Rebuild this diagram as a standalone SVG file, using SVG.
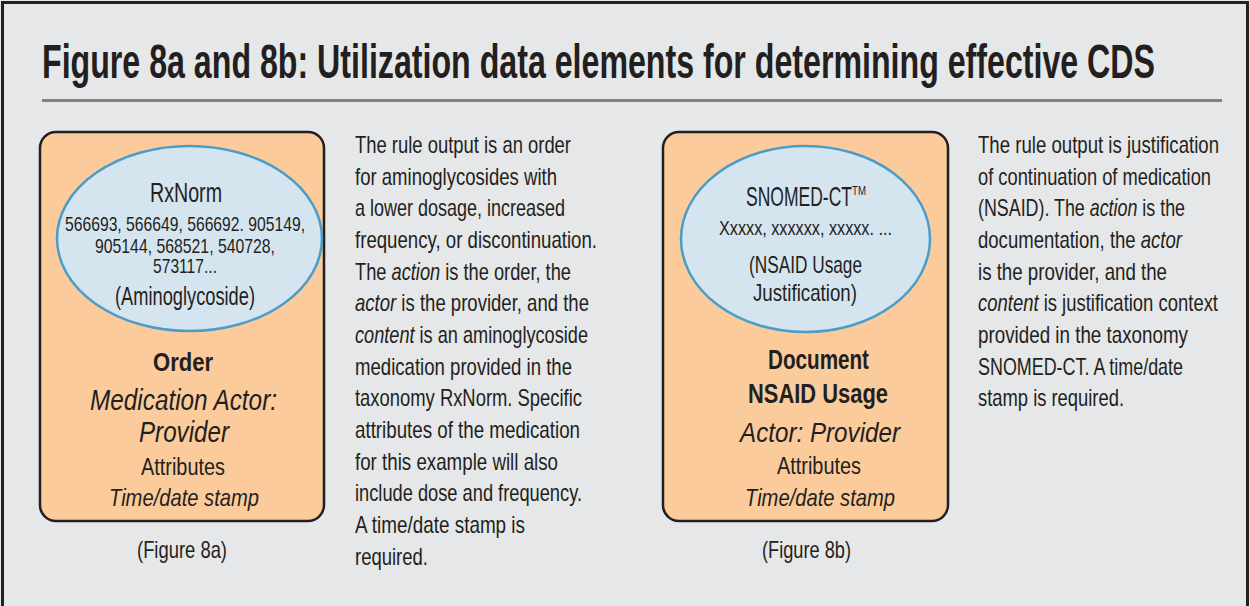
<svg xmlns="http://www.w3.org/2000/svg" width="1250" height="606" viewBox="0 0 1250 606">
<style>
text{font-family:"Liberation Sans Narrow","Liberation Sans",Arial,sans-serif;fill:#231f20;}
.c{text-anchor:middle;}
.b{font-weight:bold;}
.i{font-style:italic;}
.box{fill:#fbcb9c;stroke:#231f20;stroke-width:2.5;}
.ell{fill:#d5e5f0;stroke:#4b9cc6;stroke-width:2.5;}
.p{font-size:24px;}
</style>
<rect x="0" y="0" width="1250" height="606" fill="#e6e7e8"/>
<rect x="2.5" y="2.5" width="1245" height="640" fill="none" stroke="#231f20" stroke-width="3"/>
<text x="42" y="78" font-size="48" class="b" textLength="1113" lengthAdjust="spacingAndGlyphs">Figure 8a and 8b: Utilization data elements for determining effective CDS</text>
<line x1="42" y1="100.5" x2="1222" y2="100.5" stroke="#808285" stroke-width="3"/>

<g id="fig8a">
<rect class="box" x="40" y="132" width="284" height="389" rx="16"/>
<ellipse class="ell" cx="189.5" cy="238.5" rx="132.5" ry="92.5"/>
<text class="c" x="186" y="202" font-size="27" textLength="72" lengthAdjust="spacingAndGlyphs">RxNorm</text>
<text class="c" x="185" y="231" font-size="21" textLength="240" lengthAdjust="spacingAndGlyphs">566693, 566649, 566692. 905149,</text>
<text class="c" x="185" y="253" font-size="21" textLength="180" lengthAdjust="spacingAndGlyphs">905144, 568521, 540728,</text>
<text class="c" x="185" y="273" font-size="21" textLength="64" lengthAdjust="spacingAndGlyphs">573117...</text>
<text class="c" x="185" y="305" font-size="25" textLength="140" lengthAdjust="spacingAndGlyphs">(Aminoglycoside)</text>
<text class="c b" x="183" y="371" font-size="26" textLength="60" lengthAdjust="spacingAndGlyphs">Order</text>
<text class="c i" x="183.5" y="410" font-size="29" textLength="187" lengthAdjust="spacingAndGlyphs">Medication Actor:</text>
<text class="c i" x="184" y="442" font-size="29" textLength="90" lengthAdjust="spacingAndGlyphs">Provider</text>
<text class="c" x="183" y="475" font-size="23" textLength="84" lengthAdjust="spacingAndGlyphs">Attributes</text>
<text class="c i" x="184" y="506" font-size="24" textLength="150" lengthAdjust="spacingAndGlyphs">Time/date stamp</text>
<text class="c" x="182" y="558" font-size="24" textLength="90" lengthAdjust="spacingAndGlyphs">(Figure 8a)</text>
</g>

<g id="text8a" class="p">
<text x="355" y="153" class="p" textLength="216" lengthAdjust="spacingAndGlyphs">The rule output is an order</text>
<text x="355" y="185" class="p" textLength="202" lengthAdjust="spacingAndGlyphs">for aminoglycosides with</text>
<text x="355" y="216" class="p" textLength="210" lengthAdjust="spacingAndGlyphs">a lower dosage, increased</text>
<text x="355" y="248" class="p" textLength="242" lengthAdjust="spacingAndGlyphs">frequency, or discontinuation.</text>
<text x="355" y="280" class="p" textLength="216" lengthAdjust="spacingAndGlyphs">The <tspan class="i">action</tspan> is the order, the</text>
<text x="355" y="311" class="p" textLength="234" lengthAdjust="spacingAndGlyphs"><tspan class="i">actor</tspan> is the provider, and the</text>
<text x="355" y="343" class="p" textLength="233" lengthAdjust="spacingAndGlyphs"><tspan class="i">content</tspan> is an aminoglycoside</text>
<text x="355" y="375" class="p" textLength="217" lengthAdjust="spacingAndGlyphs">medication provided in the</text>
<text x="355" y="406" class="p" textLength="227" lengthAdjust="spacingAndGlyphs">taxonomy RxNorm. Specific</text>
<text x="355" y="438" class="p" textLength="225" lengthAdjust="spacingAndGlyphs">attributes of the medication</text>
<text x="355" y="470" class="p" textLength="203" lengthAdjust="spacingAndGlyphs">for this example will also</text>
<text x="355" y="501" class="p" textLength="227" lengthAdjust="spacingAndGlyphs">include dose and frequency.</text>
<text x="355" y="533" class="p" textLength="170" lengthAdjust="spacingAndGlyphs">A time/date stamp is</text>
<text x="355" y="565" class="p" textLength="73" lengthAdjust="spacingAndGlyphs">required.</text>
</g>

<g id="fig8b">
<rect class="box" x="663" y="132" width="285" height="389" rx="16"/>
<ellipse class="ell" cx="805.5" cy="239" rx="124.5" ry="93"/>
<text x="746" y="206" font-size="28" textLength="106" lengthAdjust="spacingAndGlyphs">SNOMED-CT</text>
<text x="852" y="195" font-size="12" textLength="14" lengthAdjust="spacingAndGlyphs">TM</text>
<text class="c" x="805.5" y="235" font-size="20" textLength="173" lengthAdjust="spacingAndGlyphs">Xxxxx, xxxxxx, xxxxx. ...</text>
<text class="c" x="805.5" y="273" font-size="24" textLength="113" lengthAdjust="spacingAndGlyphs">(NSAID Usage</text>
<text class="c" x="805" y="301" font-size="24" textLength="104" lengthAdjust="spacingAndGlyphs">Justification)</text>
<text class="c b" x="818.5" y="369" font-size="27" textLength="101" lengthAdjust="spacingAndGlyphs">Document</text>
<text class="c b" x="818" y="403" font-size="27" textLength="140" lengthAdjust="spacingAndGlyphs">NSAID Usage</text>
<text class="c i" x="820" y="442" font-size="27" textLength="160" lengthAdjust="spacingAndGlyphs">Actor: Provider</text>
<text class="c" x="819" y="474" font-size="23" textLength="84" lengthAdjust="spacingAndGlyphs">Attributes</text>
<text class="c i" x="820" y="506" font-size="24" textLength="150" lengthAdjust="spacingAndGlyphs">Time/date stamp</text>
<text class="c" x="806.5" y="558" font-size="24" textLength="89" lengthAdjust="spacingAndGlyphs">(Figure 8b)</text>
</g>

<g id="text8b">
<text x="978" y="153" class="p" textLength="241" lengthAdjust="spacingAndGlyphs">The rule output is justification</text>
<text x="978" y="185" class="p" textLength="233" lengthAdjust="spacingAndGlyphs">of continuation of medication</text>
<text x="978" y="216" class="p" textLength="207" lengthAdjust="spacingAndGlyphs">(NSAID). The <tspan class="i">action</tspan> is the</text>
<text x="978" y="248" class="p" textLength="204" lengthAdjust="spacingAndGlyphs">documentation, the <tspan class="i">actor</tspan></text>
<text x="978" y="280" class="p" textLength="189" lengthAdjust="spacingAndGlyphs">is the provider, and the</text>
<text x="978" y="311" class="p" textLength="240" lengthAdjust="spacingAndGlyphs"><tspan class="i">content</tspan> is justification context</text>
<text x="978" y="343" class="p" textLength="210" lengthAdjust="spacingAndGlyphs">provided in the taxonomy</text>
<text x="978" y="375" class="p" textLength="205" lengthAdjust="spacingAndGlyphs">SNOMED-CT. A time/date</text>
<text x="978" y="406" class="p" textLength="146" lengthAdjust="spacingAndGlyphs">stamp is required.</text>
</g>
</svg>
